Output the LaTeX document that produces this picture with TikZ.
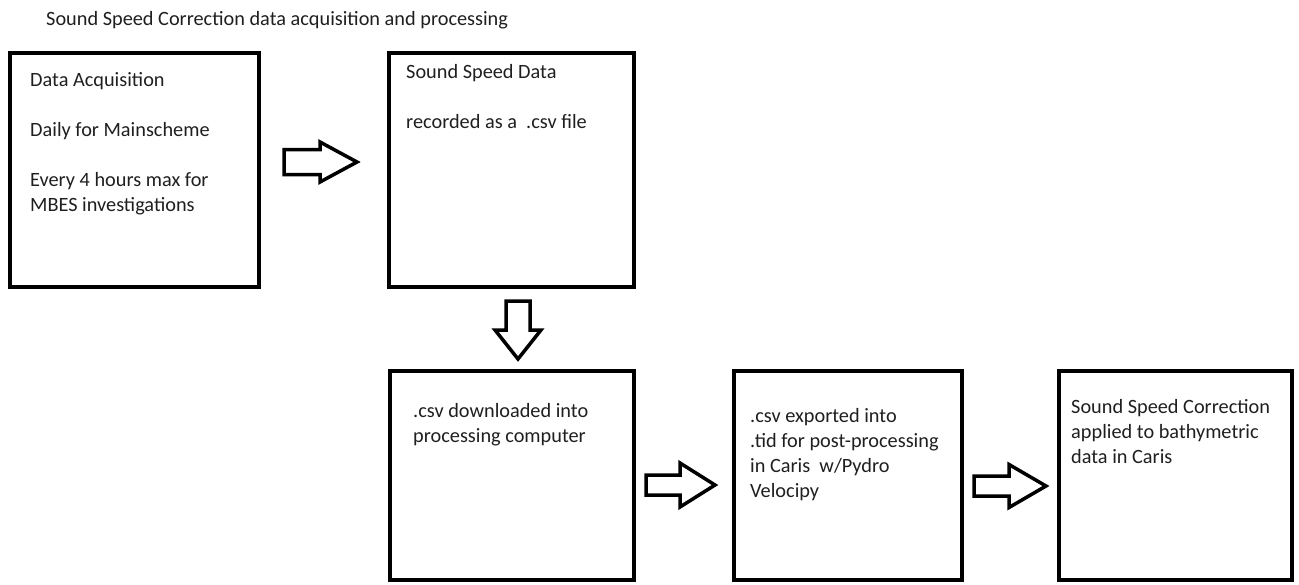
\documentclass[tikz,border=0pt]{standalone}
\usepackage{fontspec}
\setmainfont{Carlito}
\newcommand\boxlines[1]{\begin{tabular}[t]{@{}l@{}}#1\end{tabular}}
\begin{document}
\begin{tikzpicture}[x=1pt,y=-1pt,
  box/.style={draw=black,line width=4pt,rectangle,inner sep=0pt,outer sep=0pt},
  txt/.style={anchor=base west,inner sep=0pt,text=black!88,font=\fontsize{20.3}{25}\selectfont},
  arrowline/.style={draw=black,line width=3.5pt,fill=white,line join=miter}]
\useasboundingbox (0,0) rectangle (1299,584);
\newcommand\blockarrow[6]{%
  \draw[arrowline,shift={#1},rotate=#2] (0,-#4) -- ({#3-#6},-#4) -- ({#3-#6},-#5) -- (#3,0) -- ({#3-#6},#5) -- ({#3-#6},#4) -- (0,#4) -- cycle;}

\node[txt] (title) at (46,25) {Sound Speed Correction data acquisition and processing};

\node[box,minimum width=249pt,minimum height=234pt] (b1) at (134.5,170) {};
\node[box,minimum width=245pt,minimum height=234pt] (b2) at (511.5,170) {};
\node[box,minimum width=244pt,minimum height=209pt] (b3) at (512,475.5) {};
\node[box,minimum width=228pt,minimum height=209pt] (b4) at (848,475.5) {};
\node[box,minimum width=233pt,minimum height=209pt] (b5) at (1175.5,475.5) {};

\node[txt] (t1) at (30,86) {\boxlines{Data Acquisition\\ \\Daily for Mainscheme\\ \\Every 4 hours max for\\MBES investigations}};
\node[txt] (t2) at (406,78) {\boxlines{Sound Speed Data\\ \\recorded as a\ \ .csv file}};
\node[txt] (t3) at (413,417) {\boxlines{.csv downloaded into\\processing computer}};
\node[txt] (t4) at (750,422) {\boxlines{.csv exported into\\.tid for post-processing\\in Caris\ \ w/Pydro\\Velocipy}};
\node[txt] (t5) at (1071,413) {\boxlines{Sound Speed Correction\\applied to bathymetric\\data in Caris}};

\blockarrow{(284,162)}{0}{73}{12.5}{20}{37}
\blockarrow{(518,301)}{-90}{58}{12}{23}{29}
\blockarrow{(646,485)}{0}{69}{10}{22}{35}
\blockarrow{(974,486)}{0}{72}{10}{21.5}{37}
\end{tikzpicture}
\end{document}
